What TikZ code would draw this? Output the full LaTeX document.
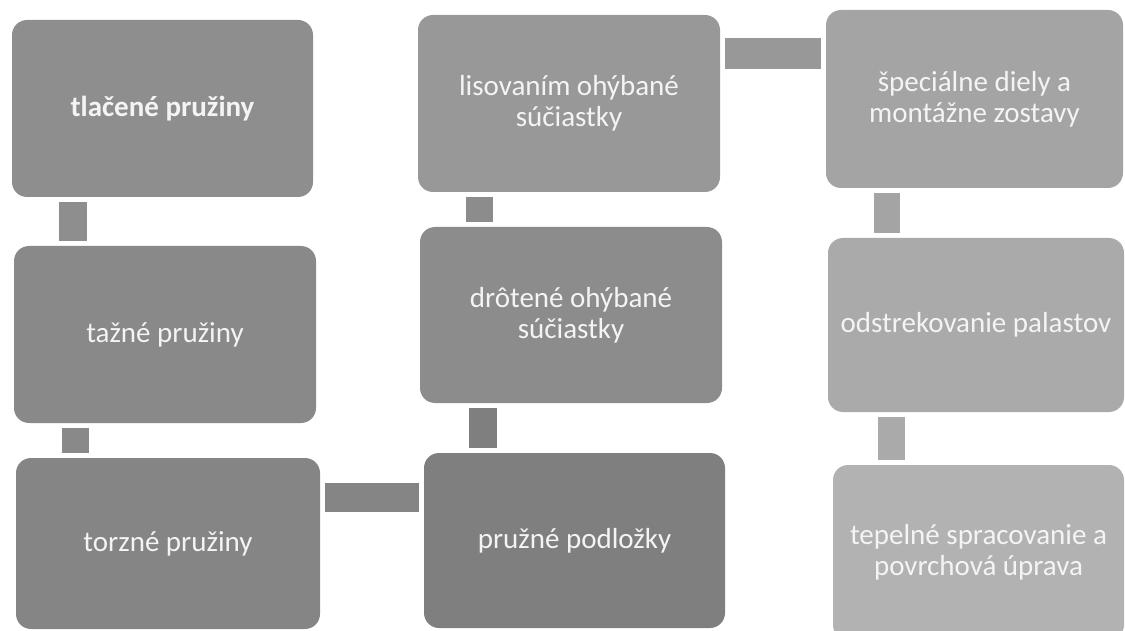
\documentclass[tikz,border=0pt]{standalone}
\usepackage{fontspec}
\setmainfont{Carlito}
\usetikzlibrary{positioning}

\definecolor{grayA}{HTML}{8E8E8E}
\definecolor{grayB}{HTML}{898989}
\definecolor{grayC}{HTML}{858585}
\definecolor{grayD}{HTML}{7F7F7F}
\definecolor{grayE}{HTML}{8C8C8C}
\definecolor{grayF}{HTML}{989898}
\definecolor{grayG}{HTML}{A4A4A4}
\definecolor{grayH}{HTML}{AAAAAA}
\definecolor{grayI}{HTML}{B2B2B2}
\definecolor{boxtext}{HTML}{F4F4F4}

\begin{document}
\begin{tikzpicture}[x=1pt, y=-1pt, box/.style = {rounded corners=15pt, inner sep=0pt, align=center, text=boxtext, font=\fontsize{29}{31}\selectfont}, link/.style = {line width=28pt, shorten <=5pt, shorten >=5pt}]

    \useasboundingbox (0,0) rectangle (1125,631);

    % boxes
    \node[box, fill=grayA, minimum width=301pt, minimum height=177pt, font=\fontsize{29}{31}\selectfont\bfseries] (tlac) at (162.5,108.5) {tlačené pružiny};
    \node[box, fill=grayB, minimum width=302pt, minimum height=177pt] (tazne) at (165,334.5) {tažné pružiny};
    \node[box, fill=grayC, minimum width=304pt, minimum height=171pt] (torz) at (168,543.5) {torzné pružiny};
    \node[box, fill=grayD, minimum width=301pt, minimum height=175pt] (podl) at (574.5,540.5) {pružné podložky};
    \node[box, fill=grayE, minimum width=302pt, minimum height=176pt] (drot) at (571,315) {drôtené ohýbané\\súčiastky};
    \node[box, fill=grayF, minimum width=302pt, minimum height=177pt] (lis) at (569,103.5) {lisovaním ohýbané\\súčiastky};
    \node[box, fill=grayG, minimum width=297pt, minimum height=178pt] (spec) at (974.5,99) {špeciálne diely a\\montážne zostavy};
    \node[box, fill=grayH, minimum width=296pt, minimum height=174pt] (odst) at (976,325) {odstrekovanie palastov};
    \node[box, fill=grayI, minimum width=291pt, minimum height=175pt] (tep) at (978.5,552.5) {tepelné spracovanie a\\povrchová úprava};

    % connectors
    \draw[link, grayA] ([xshift=61pt]tlac.south west) -- ([xshift=59pt]tazne.north west);
    \draw[link, grayB, line width=27pt] ([xshift=61.5pt]tazne.south west) -- ([xshift=59.5pt]torz.north west);
    \draw[link, grayC, line width=29pt] ([yshift=-39.5pt]torz.north east) -- ([yshift=-44.5pt]podl.north west);
    \draw[link, grayD] ([xshift=59pt]podl.north west) -- ([xshift=63pt]drot.south west);
    \draw[link, grayE, line width=27pt] ([xshift=59.5pt]drot.north west) -- ([xshift=61.5pt]lis.south west);
    \draw[link, grayF, line width=31pt] ([yshift=-38.5pt]lis.north east) -- ([yshift=-43.5pt]spec.north west);
    \draw[link, grayG, line width=26pt] ([xshift=61pt]spec.south west) -- ([xshift=59pt]odst.north west);
    \draw[link, grayH, line width=27pt] ([xshift=63.5pt]odst.south west) -- ([xshift=58.5pt]tep.north west);

\end{tikzpicture}
\end{document}
